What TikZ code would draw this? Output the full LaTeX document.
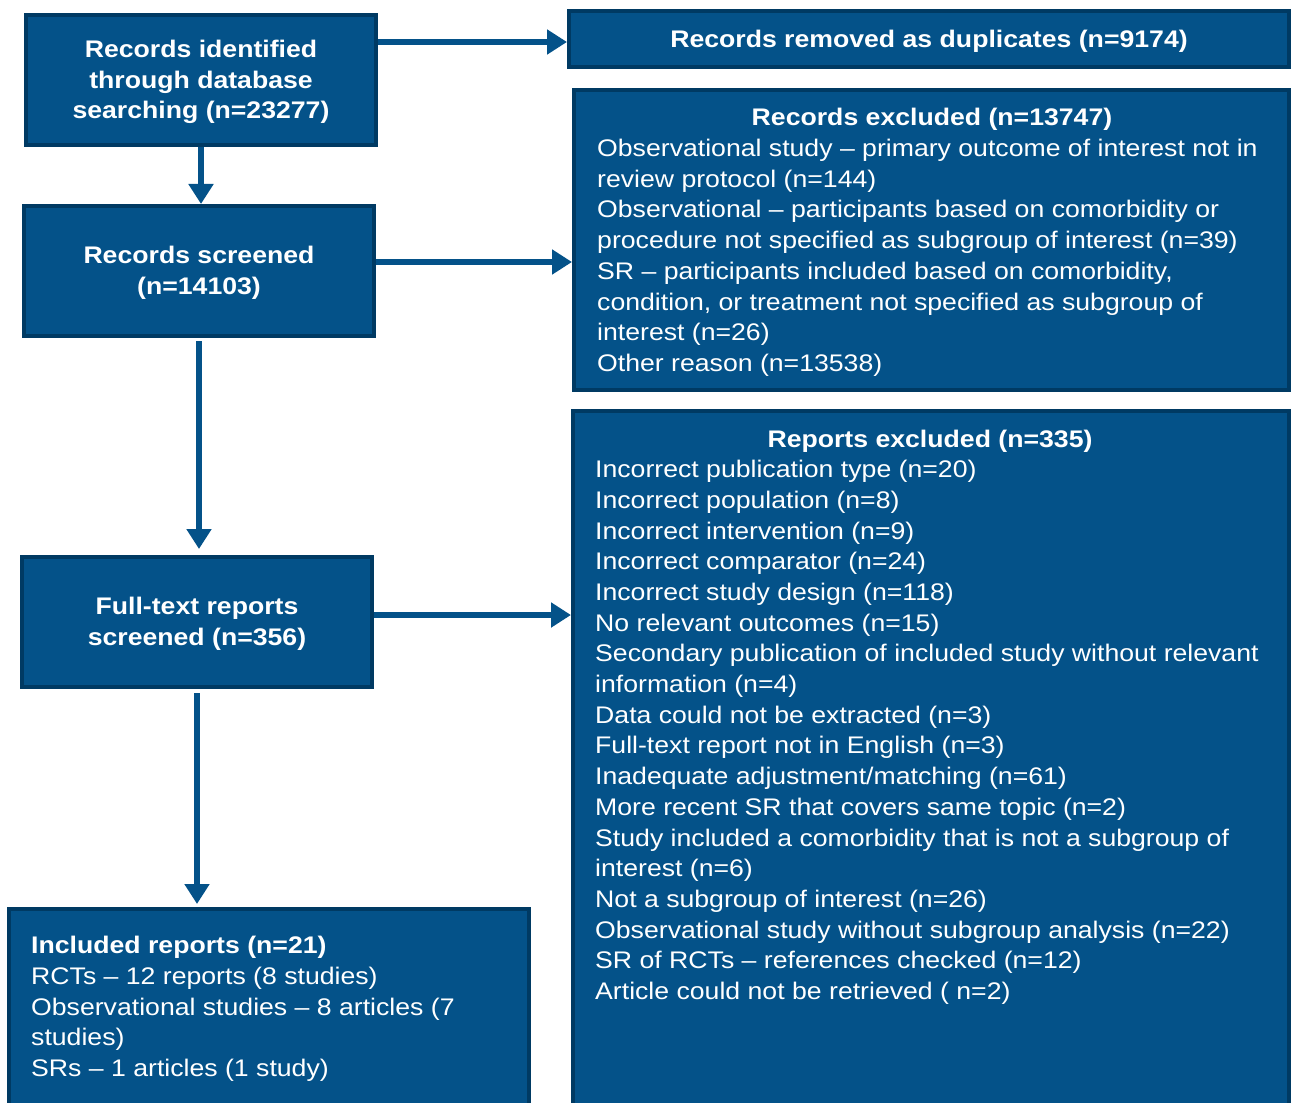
\documentclass[tikz,border=0pt]{standalone}
\usepackage{fontspec}
\setmainfont{Liberation Sans}[FakeStretch=1.11]
\usetikzlibrary{arrows.meta}
\definecolor{boxblue}{HTML}{045289}
\definecolor{boxedge}{HTML}{003A63}
\begin{document}
\begin{tikzpicture}[x=1pt,y=-1pt,
  box/.style={draw=boxedge,line width=4pt,fill=boxblue,inner sep=0pt,anchor=north west},
  txt/.style={text=white,inner sep=0pt,font=\fontsize{24}{30.7}\selectfont},
  txtb/.style={text=white,inner sep=0pt,font=\bfseries\fontsize{24}{30.7}\selectfont},
  arr/.style={draw=boxblue,line width=6pt,-{Triangle[length=20pt,width=24pt]}}]
\useasboundingbox (0,0) rectangle (1297,1102);
\clip (0,0) rectangle (1297,1102);
% boxes
\node[box,minimum width=350pt,minimum height=130pt] (A) at (24,13) {};
\node[box,minimum width=720pt,minimum height=56pt] (B) at (567,9) {};
\node[box,minimum width=350pt,minimum height=130pt] (C) at (22,204) {};
\node[box,minimum width=715pt,minimum height=300pt] (D) at (572,88) {};
\node[box,minimum width=350pt,minimum height=130pt] (E) at (20,555) {};
\node[box,minimum width=716pt,minimum height=720pt] (F) at (571,409) {};
\node[box,minimum width=520pt,minimum height=220pt] (G) at (7,907) {};
% arrows
\draw[arr] (A.east |- 0,42) -- (B.west |- 0,42);
\draw[arr] (A.south) -- (A.south |- C.north);
\draw[arr] (C.east |- 0,262) -- (D.west |- 0,262);
\draw[arr] (C.south) ++(0,3) -- (C.south |- 0,549);
\draw[arr] (E.east |- 0,615) -- (F.west |- 0,615);
\draw[arr] (E.south) ++(0,4) -- (E.south |- 0,904);
% texts
\node[txtb,align=center] (At) at ([yshift=-2pt]A.center) {Records identified\\through database\\searching (n=23277)};
\node[txtb] (Bt) at ([yshift=-2pt]B.center) {Records removed as duplicates (n=9174)};
\node[txtb,align=center] (Ct) at ([yshift=-2pt]C.center) {Records screened\\(n=14103)};
\node[txtb,align=center] (Et) at ([yshift=-2pt]E.center) {Full-text reports\\screened (n=356)};
\node[txtb] (Dt) at (932,119) {Records excluded (n=13747)};
\node[txt,align=left,anchor=north west] (Di) at (597,139) {Observational study – primary outcome of interest not in\\review protocol (n=144)\\Observational – participants based on comorbidity or\\procedure not specified as subgroup of interest (n=39)\\SR – participants included based on comorbidity,\\condition, or treatment not specified as subgroup of\\interest (n=26)\\Other reason (n=13538)};
\node[txtb] (Ft) at (930,441) {Reports excluded (n=335)};
\node[txt,align=left,anchor=north west] (Fi) at (595,460) {Incorrect publication type (n=20)\\Incorrect population (n=8)\\Incorrect intervention (n=9)\\Incorrect comparator (n=24)\\Incorrect study design (n=118)\\No relevant outcomes (n=15)\\Secondary publication of included study without relevant\\information (n=4)\\Data could not be extracted (n=3)\\Full-text report not in English (n=3)\\Inadequate adjustment/matching (n=61)\\More recent SR that covers same topic (n=2)\\Study included a comorbidity that is not a subgroup of\\interest (n=6)\\Not a subgroup of interest (n=26)\\Observational study without subgroup analysis (n=22)\\SR of RCTs – references checked (n=12)\\Article could not be retrieved ( n=2)};
\node[txt,align=left,anchor=north west] (Gi) at (31,936) {\textbf{Included reports (n=21)}\\RCTs – 12 reports (8 studies)\\Observational studies – 8 articles (7\\studies)\\SRs – 1 articles (1 study)};
\end{tikzpicture}
\end{document}
